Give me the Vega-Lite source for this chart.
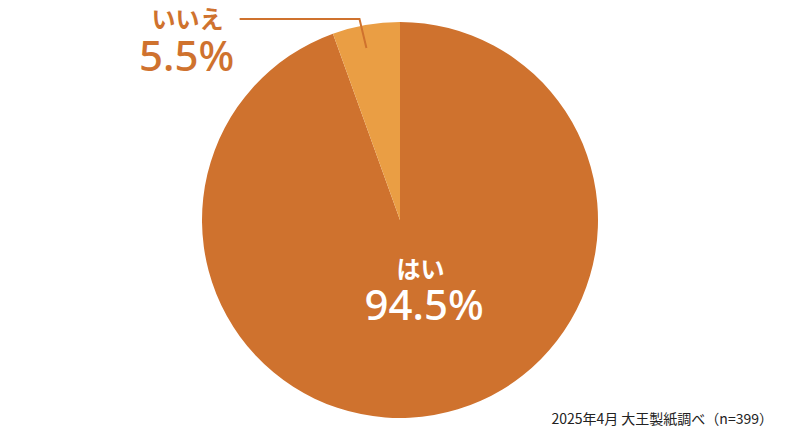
{
  "$schema": "https://vega.github.io/schema/vega-lite/v6.json",
  "width": 800,
  "height": 440,
  "padding": 0,
  "autosize": {"type": "none"},
  "background": "white",
  "config": {"view": {"stroke": null}, "font": "Noto Sans CJK JP"},
  "data": {
    "values": [
      {"answer": "はい", "value": 94.5, "label": "94.5%"},
      {"answer": "いいえ", "value": 5.5, "label": "5.5%"}
    ]
  },
  "layer": [
    {
      "mark": {"type": "arc", "outerRadius": 198},
      "encoding": {
        "theta": {"field": "value", "type": "quantitative", "stack": true},
        "order": {"field": "value", "sort": "descending"},
        "color": {
          "field": "answer",
          "type": "nominal",
          "scale": {"domain": ["はい", "いいえ"], "range": ["#CF722E", "#EA9E44"]},
          "legend": null
        }
      }
    },
    {
      "transform": [{"calculate": "datum.answer === 'はい' ? datum.answer : ''", "as": "t"}],
      "mark": {"type": "text", "radius": 55, "dx": 11, "dy": -3, "fontSize": 24, "fontWeight": "bold", "color": "#FFFFFF"},
      "encoding": {
        "theta": {"field": "value", "type": "quantitative", "stack": true},
        "order": {"field": "value", "sort": "descending"},
        "text": {"field": "t"}
      }
    },
    {
      "transform": [{"calculate": "datum.answer === 'はい' ? datum.label : ''", "as": "t"}],
      "mark": {"type": "text", "radius": 88, "dx": 9, "dy": 0, "fontSize": 42, "fontWeight": 500, "font": "Noto Sans", "color": "#FFFFFF"},
      "encoding": {
        "theta": {"field": "value", "type": "quantitative", "stack": true},
        "order": {"field": "value", "sort": "descending"},
        "text": {"field": "t"}
      }
    },
    {
      "transform": [{"calculate": "datum.answer === 'いいえ' ? datum.answer : ''", "as": "t"}],
      "mark": {"type": "text", "radius": 200, "dx": -178, "dy": -2, "fontSize": 24, "fontWeight": "bold", "color": "#CF722E"},
      "encoding": {
        "theta": {"field": "value", "type": "quantitative", "stack": true},
        "order": {"field": "value", "sort": "descending"},
        "text": {"field": "t"}
      }
    },
    {
      "transform": [{"calculate": "datum.answer === 'いいえ' ? datum.label : ''", "as": "t"}],
      "mark": {"type": "text", "radius": 200, "dx": -179, "dy": 35, "fontSize": 42, "fontWeight": 500, "font": "Noto Sans", "color": "#CF722E"},
      "encoding": {
        "theta": {"field": "value", "type": "quantitative", "stack": true},
        "order": {"field": "value", "sort": "descending"},
        "text": {"field": "t"}
      }
    },
    {
      "transform": [
        {"stack": "value", "groupby": [], "sort": [{"field": "value", "order": "descending"}], "as": ["s0", "s1"]},
        {"joinaggregate": [{"op": "sum", "field": "value", "as": "tot"}]},
        {"calculate": "PI * (datum.s0 + datum.s1) / datum.tot", "as": "mid"},
        {"filter": "datum.answer === 'いいえ'"},
        {"calculate": "[{px: 0.885 * sin(datum.mid - 0.02), py: 0.885 * cos(datum.mid - 0.02), k: 0}, {px: 0.885 * sin(datum.mid - 0.02) - 0.035, py: 1.015, k: 1}, {px: -0.81, py: 1.015, k: 2}]", "as": "pts"},
        {"flatten": ["pts"]},
        {"calculate": "datum.pts.px", "as": "px"},
        {"calculate": "datum.pts.py", "as": "py"},
        {"calculate": "datum.pts.k", "as": "k"}
      ],
      "mark": {"type": "line", "color": "#CF722E", "strokeWidth": 2},
      "encoding": {
        "x": {"field": "px", "type": "quantitative", "scale": {"domain": [-2.0202, 2.0202], "nice": false, "zero": false}, "axis": null},
        "y": {"field": "py", "type": "quantitative", "scale": {"domain": [-1.1111, 1.1111], "nice": false, "zero": false}, "axis": null},
        "order": {"field": "k", "type": "quantitative"}
      }
    },
    {
      "data": {"values": [{"note": "2025年4月 大王製紙調べ（n=399）"}]},
      "mark": {"type": "text", "align": "right", "baseline": "middle", "fontSize": 14, "fontWeight": "normal", "color": "#222222", "font": "Noto Sans CJK JP"},
      "encoding": {
        "x": {"datum": 1.8838, "type": "quantitative"},
        "y": {"datum": -1.0101, "type": "quantitative"},
        "text": {"field": "note"}
      }
    }
  ]
}
